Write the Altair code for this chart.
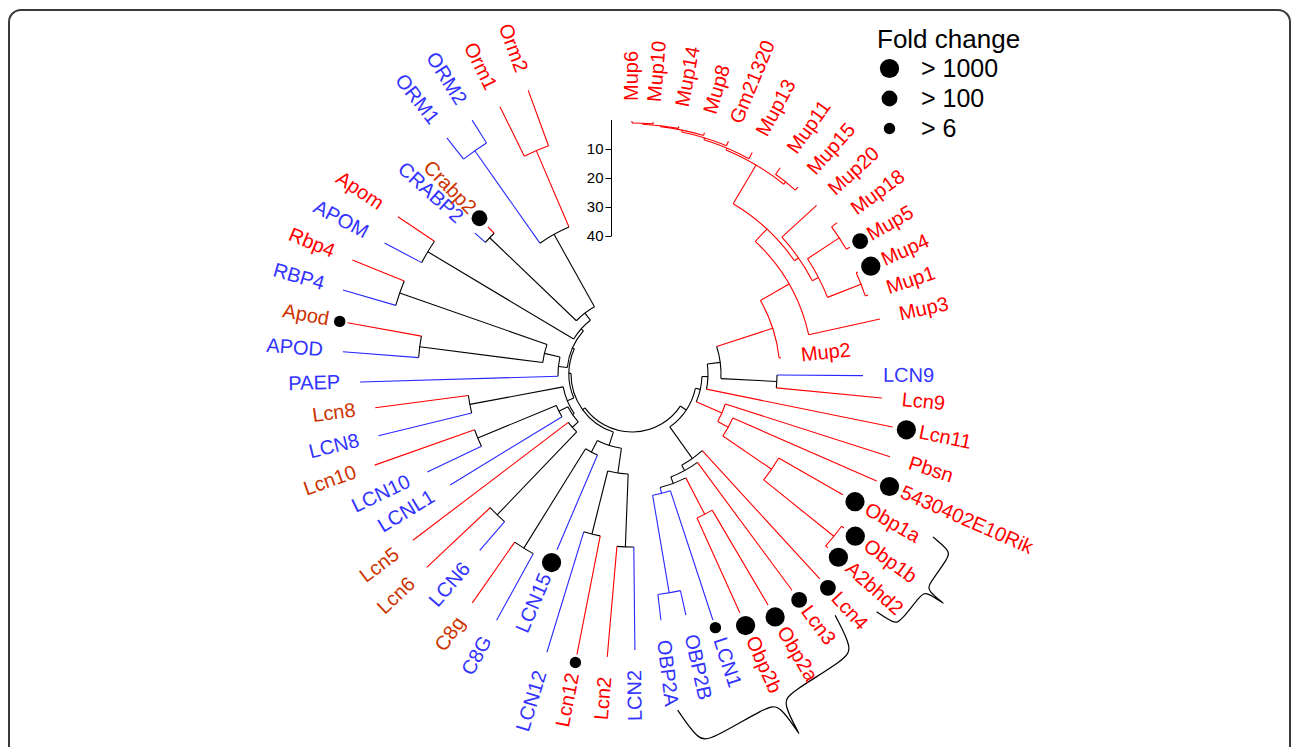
import math
import altair as alt
import pandas as pd

# ---------------- data ----------------
leaf_names = ["Mup6", "Mup10", "Mup14", "Mup8", "Gm21320", "Mup13", "Mup11", "Mup15", "Mup20", "Mup18",
              "Mup5", "Mup4", "Mup1", "Mup3", "Mup2", "LCN9", "Lcn9", "Lcn11", "Pbsn", "5430402E10Rik",
              "Obp1a", "Obp1b", "A2bhd2", "Lcn4", "Lcn3", "Obp2a", "Obp2b", "LCN1", "OBP2B", "OBP2A",
              "LCN2", "Lcn2", "Lcn12", "LCN12", "LCN15", "C8G", "C8g", "LCN6", "Lcn6", "Lcn5",
              "LCNL1", "LCN10", "Lcn10", "LCN8", "Lcn8", "PAEP", "APOD", "Apod", "RBP4", "Rbp4",
              "APOM", "Apom", "CRABP2", "Crabp2", "ORM1", "ORM2", "Orm1", "Orm2"]
# leaf angle (degrees clockwise from 12 o'clock)
leaf_angle = [0.0, 4.8, 10.7, 16.7, 22.5, 28.5, 35.7, 41.6, 47.6, 53.6,
              59.8, 65.7, 71.5, 77.5, 83.8, 90.4, 95.5, 101.5, 107.8, 113.6,
              119.8, 126.0, 131.6, 137.5, 143.5, 149.5, 155.7, 161.8, 167.4, 173.3,
              179.4, 185.0, 191.1, 197.0, 203.1, 208.8, 214.9, 220.8, 226.7, 232.8,
              238.6, 244.4, 250.5, 256.3, 262.5, 268.3, 274.4, 280.2, 286.2, 292.2,
              297.9, 303.9, 311.9, 315.6, 321.9, 327.8, 333.7, 339.9]
# distance of each tip from the tree centre
leaf_tip = [253, 253, 252, 252, 252, 252, 254, 250, 250, 255,
            252, 248, 249, 254, 150, 231, 251, 266, 271, 267,
            243, 262, 262, 278, 269, 268, 262, 259, 247, 248,
            276, 284, 286, 291, 191, 281, 279, 233, 282, 275,
            213, 227, 273, 261, 259, 272, 290, 289, 301, 302,
            280, 282, 211, 206, 300, 300, 298, 302]

node_names = ["o_m", "o_h", "orm", "crabp", "b1", "apom", "b2", "rbp", "apod", "b3",
              "b4", "lcn8", "lcn10", "b6", "lcn6", "b7", "c8", "b9", "lcn12", "lcn2",
              "b10", "b11", "c1", "c2", "c3", "c4", "c5",
              "mt1", "mt2", "mt3", "mt4", "mt5", "m1115", "t2", "m185", "m41",
              "me", "md", "mc", "mb", "ma", "lcn9", "r1", "r2",
              "p4", "p3", "p2", "p", "r3",
              "ob", "bo", "bl", "na", "nb", "nc", "r4", "root"]
node_radius = [243, 273, 160, 197, 77, 238, 68, 246, 214, 90,
               74, 165, 167, 82, 195, 80, 205, 88, 165, 173,
               100, 75, 72, 70, 65, 63, 61,
               251, 250, 249, 247, 245, 246, 243, 248, 246,
               210, 203, 198, 181, 148, 145, 89, 76,
               259, 169, 110, 98, 70,
               158, 222, 123, 117, 110, 104, 65, 58]
node_children = [["Orm1", "Orm2"], ["ORM1", "ORM2"], ["o_h", "o_m"], ["CRABP2", "Crabp2"], ["crabp", "orm"],
                 ["APOM", "Apom"], ["apom", "b1"], ["RBP4", "Rbp4"], ["APOD", "Apod"], ["apod", "rbp"],
                 ["PAEP", "b3"], ["LCN8", "Lcn8"], ["LCN10", "Lcn10"], ["LCNL1", "lcn10"], ["LCN6", "Lcn6"],
                 ["lcn6", "Lcn5"], ["C8G", "C8g"], ["LCN15", "c8"], ["Lcn12", "LCN12"], ["LCN2", "Lcn2"],
                 ["lcn2", "lcn12"], ["b10", "b9"], ["b7", "b6"], ["c1", "lcn8"], ["b4", "b2"],
                 ["c2", "c3"], ["b11", "c4"],
                 ["Mup6", "Mup10"], ["mt1", "Mup14"], ["mt2", "Mup8"], ["mt3", "Gm21320"], ["mt4", "Mup13"],
                 ["Mup11", "Mup15"], ["mt5", "m1115"], ["Mup18", "Mup5"], ["Mup4", "Mup1"],
                 ["m185", "m41"], ["Mup20", "me"], ["t2", "md"], ["mc", "Mup3"], ["mb", "Mup2"],
                 ["LCN9", "Lcn9"], ["ma", "lcn9"], ["r1", "Lcn11"],
                 ["Obp1b", "A2bhd2"], ["Obp1a", "p4"], ["5430402E10Rik", "p3"], ["Pbsn", "p2"], ["r2", "p"],
                 ["Obp2a", "Obp2b"], ["OBP2B", "OBP2A"], ["LCN1", "bo"], ["ob", "bl"], ["Lcn3", "na"],
                 ["Lcn4", "nb"], ["r3", "nc"], ["r4", "c5"]]

brown_labels = ["Crabp2", "Apod", "Lcn8", "Lcn10", "Lcn5", "Lcn6", "C8g"]
fold_1000 = ["Mup4", "Lcn11", "5430402E10Rik", "Obp1a", "Obp1b", "A2bhd2", "Obp2a", "Obp2b", "LCN15"]
fold_100 = ["Crabp2", "Mup5", "Lcn4", "Lcn3"]
fold_6 = ["Apod", "LCN1", "Lcn12"]
fold_labels = ["> 1000", "> 100", "> 6"]
scale_ticks = [10, 20, 30, 40]

assert len(leaf_names) == len(leaf_angle) == len(leaf_tip)
assert len(node_names) == len(node_radius) == len(node_children)

# ---------------- layout / styling ----------------
CX, CY = 632, 374
FONT = "Liberation Sans"
RED, BLUE, BROWN, BLACK = "#FF0000", "#3333FF", "#CC3300", "#000000"
BRANCH = {"mouse": RED, "human": "#2828FF", "mixed": BLACK}

angle = dict(zip(leaf_names, leaf_angle))
rad = dict(zip(leaf_names, leaf_tip))
kids = dict(zip(node_names, node_children))
rad.update(zip(node_names, node_radius))
parent = {c: n for n, cs in kids.items() for c in cs}


def place(n):
    if n in kids:
        for c in kids[n]:
            place(c)
        angle[n] = sum(angle[c] for c in kids[n]) / len(kids[n])


place("root")


def clade(n):
    if n not in kids:
        return "human" if n == n.upper() else "mouse"
    s = {clade(c) for c in kids[n]}
    return s.pop() if len(s) == 1 else "mixed"


seg_df = pd.DataFrame([{"a": angle[n], "r0": rad[parent[n]], "r1": rad[n], "col": BRANCH[clade(n)]}
                       for n in parent])
arc_df = pd.DataFrame([{"t0": min(angle[c] for c in cs) * math.pi / 180,
                        "t1": max(angle[c] for c in cs) * math.pi / 180,
                        "r": rad[n], "col": BRANCH[clade(n)]} for n, cs in kids.items()])

fold = {}
for lab, names in zip(fold_labels, [fold_1000, fold_100, fold_6]):
    for nm in names:
        fold[nm] = lab
DOT_OFF = {"> 1000": 14, "> 100": 12, "> 6": 8}
LAB_OFF = {"> 1000": 27, "> 100": 22, "> 6": 19, "": 20}

rows = []
for nm, a, t in zip(leaf_names, leaf_angle, leaf_tip):
    human = nm == nm.upper()
    right = a < 178
    fc = fold.get(nm, "")
    rows.append({"name": nm, "a": a,
                 "lr": t + LAB_OFF[fc],
                 "dr": t + DOT_OFF.get(fc, 0),
                 "fc": fc,
                 "side": "R" if right else "L",
                 "rot": ((a - 90) if right else (a - 270)) % 360,
                 "lc": BLUE if human else (BROWN if nm in brown_labels else RED)})
leaf_df = pd.DataFrame(rows)
dot_df = leaf_df[leaf_df.fc != ""]

# straight curly braces next to label groups:
# (angle, radius) of both ends of the brace back, hook depth, cusp depth
braces = [((119.0, 367), (133.7, 366), 25, 24), ((141.0, 358), (169.7, 379), 43, 41)]
bu = [0.0, 0.0, 0.012, 0.07, 0.43, 0.49, 0.5, 0.5, 0.51, 0.57, 0.93, 0.988, 1.0, 1.0]
bv = [-1.0, -1.0, -0.15, 0.0, 0.0, 0.12, 1.0, 1.0, 0.12, 0.0, 0.0, -0.15, -1.0, -1.0]
brow = []
for bi, ((a0, r0), (a1, r1), hook, cusp) in enumerate(braces):
    p0 = (CX + r0 * math.sin(math.radians(a0)), CY - r0 * math.cos(math.radians(a0)))
    p1 = (CX + r1 * math.sin(math.radians(a1)), CY - r1 * math.cos(math.radians(a1)))
    ddx, ddy = p1[0] - p0[0], p1[1] - p0[1]
    L = math.hypot(ddx, ddy)
    nx, ny = -ddy / L, ddx / L
    mx, my = (p0[0] + p1[0]) / 2 - CX, (p0[1] + p1[1]) / 2 - CY
    if nx * mx + ny * my < 0:
        nx, ny = -nx, -ny
    for i, (u, v) in enumerate(zip(bu, bv)):
        depth = cusp if v > 0 else hook
        brow.append({"bid": bi, "i": i,
                     "x": p0[0] + u * ddx + v * depth * nx,
                     "y": p0[1] + u * ddy + v * depth * ny})
brace_df = pd.DataFrame(brow)


def xy(rfield):
    return (f"{CX} + datum.{rfield} * sin(datum.a * PI / 180)",
            f"{CY} - datum.{rfield} * cos(datum.a * PI / 180)")


X = lambda f: alt.X(f, scale=None, axis=None)
Y = lambda f: alt.Y(f, scale=None, axis=None)

frame = alt.Chart(pd.DataFrame({"k": [0]})).mark_rect(
    filled=False, fillOpacity=0, stroke="#3a3a3a", strokeWidth=2, cornerRadius=12
).encode(x=alt.value(9), x2=alt.value(1290), y=alt.value(10), y2=alt.value(1000))

x0, y0 = xy("r0")
x1, y1 = xy("r1")
branches = alt.Chart(seg_df).transform_calculate(x0=x0, y0=y0, x1=x1, y1=y1).mark_rule(
    strokeWidth=1.1
).encode(x=X("x0:Q"), y=Y("y0:Q"), x2="x1:Q", y2="y1:Q", color=alt.Color("col:N", scale=None))

arcs = alt.Chart(arc_df).mark_arc(filled=False, fillOpacity=0, strokeWidth=1.1).encode(
    theta=alt.Theta("t0:Q", scale=None, stack=None), theta2="t1:Q",
    radius=alt.Radius("r:Q", scale=None), radius2=alt.Radius2("r:Q"),
    x=alt.value(CX), y=alt.value(CY), color=alt.Color("col:N", scale=None))

brace_layer = alt.Chart(brace_df).mark_line(
    color="black", strokeWidth=1.2, interpolate="basis"
).encode(x=X("x:Q"), y=Y("y:Q"), detail="bid:N", order="i:Q")

dx, dy = xy("dr")
dots = alt.Chart(dot_df).transform_calculate(x=dx, y=dy).mark_circle(color="black", opacity=1).encode(
    x=X("x:Q"), y=Y("y:Q"),
    size=alt.Size("fc:O", scale=alt.Scale(domain=fold_labels, range=[370, 130, 30]),
                  legend=alt.Legend(title="Fold change", orient="none", legendX=877, legendY=27,
                                    titleFont=FONT, titleFontSize=26, titleFontWeight="normal",
                                    titleColor="black", titlePadding=3,
                                    labelFont=FONT, labelFontSize=25, labelColor="black",
                                    labelOffset=19, rowPadding=4, symbolType="circle",
                                    symbolFillColor="black", symbolStrokeWidth=0, symbolOpacity=1)))

lx, ly = xy("lr")
labels_r = alt.Chart(leaf_df).transform_filter("datum.side == 'R'").transform_calculate(x=lx, y=ly).mark_text(
    font=FONT, fontSize=20, align="left", baseline="middle"
).encode(x=X("x:Q"), y=Y("y:Q"), text="name:N", angle=alt.Angle("rot:Q", scale=None),
         color=alt.Color("lc:N", scale=None))
labels_l = alt.Chart(leaf_df).transform_filter("datum.side == 'L'").transform_calculate(x=lx, y=ly).mark_text(
    font=FONT, fontSize=20, align="right", baseline="middle"
).encode(x=X("x:Q"), y=Y("y:Q"), text="name:N", angle=alt.Angle("rot:Q", scale=None),
         color=alt.Color("lc:N", scale=None))

scale_bar = alt.Chart(pd.DataFrame({"v": scale_ticks})).mark_point(opacity=0).encode(
    x=alt.value(611),
    y=alt.Y("v:Q", scale=alt.Scale(domain=[0, 40], range=[119.5, 235.5], nice=False, zero=False),
            axis=alt.Axis(orient="left", offset=-611, values=scale_ticks, title=None, grid=False,
                          domainColor="black", domainWidth=1, tickColor="black", tickWidth=1, tickSize=6,
                          labelColor="black", labelFont=FONT, labelFontSize=15, labelPadding=2)))

chart = alt.layer(frame, branches, arcs, brace_layer, dots, labels_r, labels_l, scale_bar).resolve_scale(
    y="independent"
).properties(
    width=1292, height=747, padding=0, autosize=alt.AutoSizeParams(type="none"), background="white"
).configure_view(strokeWidth=0)

chart.save("out.html", embed_options={"renderer": "svg", "actions": False})
